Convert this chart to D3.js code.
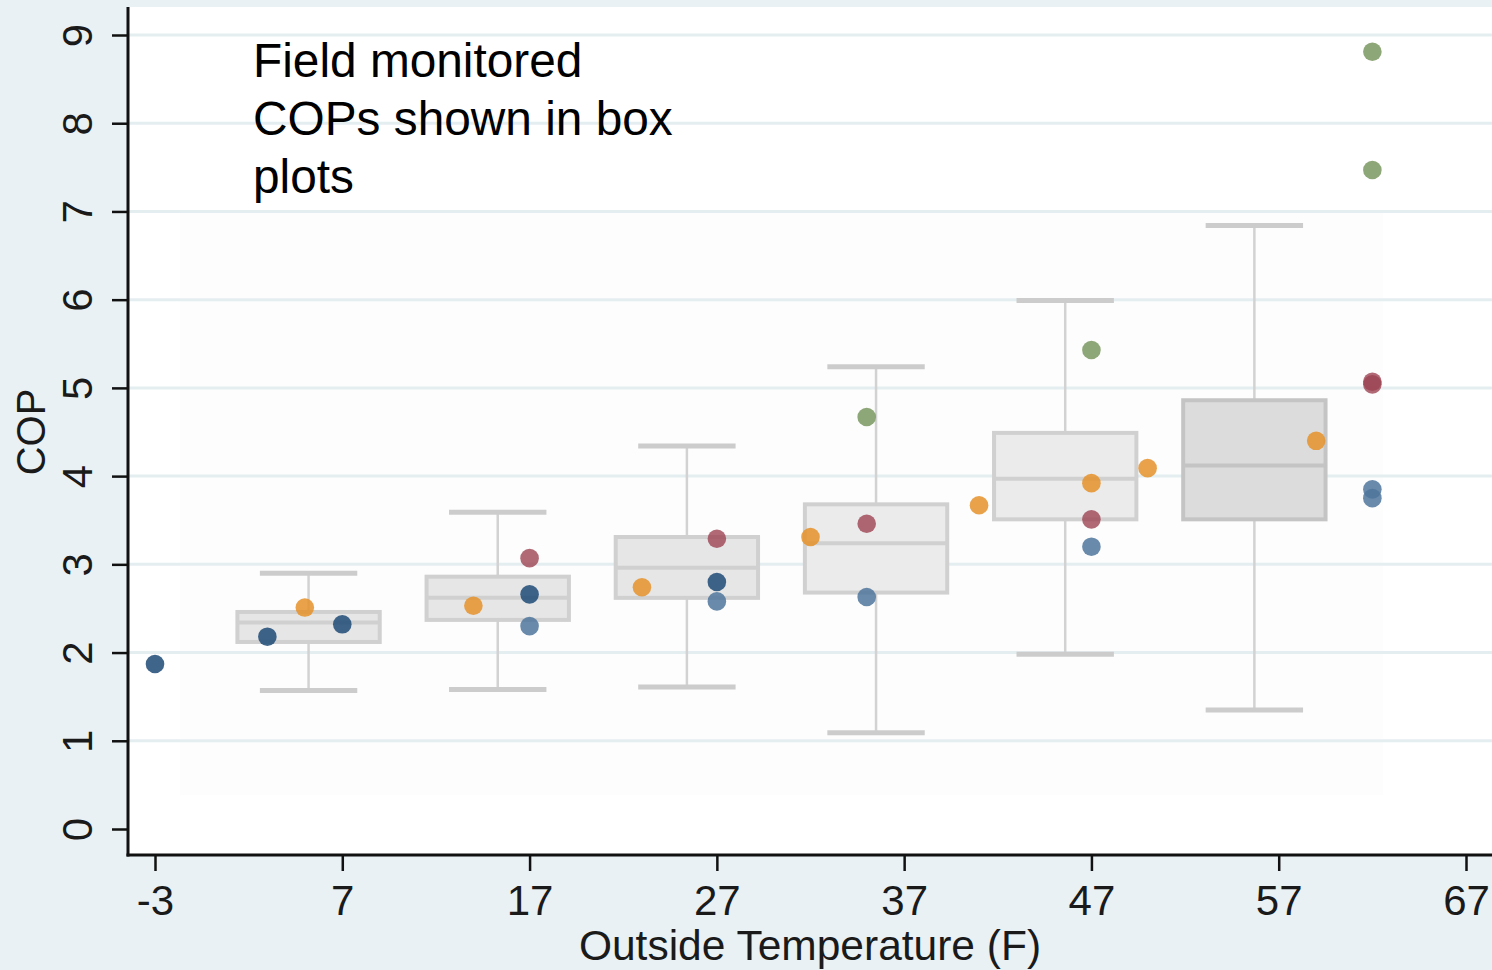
<!DOCTYPE html>
<html>
<head>
<meta charset="utf-8">
<script src="https://cdn.jsdelivr.net/npm/d3@7"></script>
<style>
  html, body { margin: 0; padding: 0; background: #eaf1f4; }
  svg { display: block; }
  text { font-family: "Liberation Sans", Arial, sans-serif; }
</style>
</head>
<body>
<svg id="chart" width="1492" height="970"></svg>
<script>
// Box plot summaries per temperature bin (COP)
const boxCenters   = [5.2, 15.3, 25.4, 35.5, 45.6, 55.7];
const whiskerLow   = [1.57, 1.58, 1.61, 1.09, 1.98, 1.35];
const quartile1    = [2.12, 2.37, 2.62, 2.68, 3.51, 3.51];
const medians      = [2.34, 2.62, 2.96, 3.24, 3.97, 4.12];
const quartile3    = [2.46, 2.86, 3.31, 3.68, 4.49, 4.86];
const whiskerHigh  = [2.90, 3.59, 4.34, 5.24, 5.99, 6.84];
const boxShade     = ["#e6e6e6", "#e6e6e6", "#e6e6e6", "#ebebeb", "#ebebeb", "#dcdcdc"];

// Individual field-monitored COP points, [temperature F, COP]
const navyPoints   = [[-3, 1.87], [3, 2.18], [7, 2.32], [17, 2.66], [27, 2.80]];
const steelPoints  = [[17, 2.30], [27, 2.58], [35, 2.63], [47, 3.20], [62, 3.85], [62, 3.75]];
const orangePoints = [[5, 2.51], [14, 2.53], [23, 2.74], [32, 3.31], [41, 3.67], [47, 3.92], [50, 4.09], [59, 4.40]];
const redPoints    = [[17, 3.07], [27, 3.29], [35, 3.46], [47, 3.51], [62, 5.07], [62, 5.04]];
const greenPoints  = [[35, 4.67], [47, 5.43], [62, 7.47], [62, 8.81]];

const xTicks = [-3, 7, 17, 27, 37, 47, 57, 67];
const yTicks = [0, 1, 2, 3, 4, 5, 6, 7, 8, 9];
const noteLines = ["Field monitored", "COPs shown in box", "plots"];

const svg = d3.select("#chart");
const W = 1492, H = 970;
const plot = { left: 128, right: 1492, top: 7, bottom: 855 };

const x = d3.scaleLinear().domain([-3, 67]).range([155, 1466]);
const y = d3.scaleLinear().domain([0, 9]).range([829, 35]);

// outer background
svg.append("rect").attr("width", W).attr("height", H).attr("fill", "#eaf1f4");
// plot region
svg.append("rect")
  .attr("x", plot.left).attr("y", plot.top)
  .attr("width", plot.right - plot.left).attr("height", plot.bottom - plot.top)
  .attr("fill", "#ffffff");
// faint inner region
svg.append("rect")
  .attr("x", 180).attr("y", 210).attr("width", 1203).attr("height", 585)
  .attr("fill", "#fdfdfd");

// horizontal gridlines
svg.append("g").selectAll("line").data(yTicks.filter(d => d > 0)).join("line")
  .attr("x1", plot.left).attr("x2", plot.right)
  .attr("y1", d => y(d)).attr("y2", d => y(d))
  .attr("stroke", "#e4edf0").attr("stroke-width", 3);

// boxes
const boxes = svg.append("g");
const boxHalf = 3.8, capHalf = 2.6;
boxCenters.forEach((c, i) => {
  const g = boxes.append("g");
  g.append("line")
    .attr("x1", x(c)).attr("x2", x(c))
    .attr("y1", y(whiskerHigh[i])).attr("y2", y(quartile3[i]))
    .attr("stroke", "#d2d2d2").attr("stroke-width", 2.5);
  g.append("line")
    .attr("x1", x(c)).attr("x2", x(c))
    .attr("y1", y(quartile1[i])).attr("y2", y(whiskerLow[i]))
    .attr("stroke", "#d2d2d2").attr("stroke-width", 2.5);
  [whiskerHigh[i], whiskerLow[i]].forEach(v => {
    g.append("line")
      .attr("x1", x(c - capHalf)).attr("x2", x(c + capHalf))
      .attr("y1", y(v)).attr("y2", y(v))
      .attr("stroke", "#cccccc").attr("stroke-width", 5);
  });
  g.append("rect")
    .attr("x", x(c - boxHalf)).attr("y", y(quartile3[i]))
    .attr("width", x(c + boxHalf) - x(c - boxHalf))
    .attr("height", y(quartile1[i]) - y(quartile3[i]))
    .attr("fill", boxShade[i])
    .attr("stroke", i === 5 ? "#c4c4c4" : "#d0d0d0").attr("stroke-width", 4);
  g.append("line")
    .attr("x1", x(c - boxHalf)).attr("x2", x(c + boxHalf))
    .attr("y1", y(medians[i])).attr("y2", y(medians[i]))
    .attr("stroke", i === 5 ? "#c4c4c4" : "#d0d0d0").attr("stroke-width", 4);
});

// points
const series = [
  { pts: navyPoints,   color: "#1f4a75", op: 0.85 },
  { pts: steelPoints,  color: "#4f769b", op: 0.85 },
  { pts: orangePoints, color: "#e5922a", op: 0.85 },
  { pts: redPoints,    color: "#9c4452", op: 0.8 },
  { pts: greenPoints,  color: "#7a9860", op: 0.85 }
];
const dots = svg.append("g");
series.forEach(s => {
  dots.selectAll(null).data(s.pts).join("circle")
    .attr("cx", d => x(d[0])).attr("cy", d => y(d[1])).attr("r", 9.3)
    .attr("fill", s.color).attr("fill-opacity", s.op);
});

// axes
const xAxis = d3.axisBottom(x).tickValues(xTicks).tickSize(16).tickPadding(14)
  .tickFormat(d => String(d));
const gx = svg.append("g").attr("transform", `translate(0,${plot.bottom})`).call(xAxis);
gx.select(".domain").remove();
gx.selectAll(".tick line").attr("stroke", "#111").attr("stroke-width", 2.5);
gx.selectAll(".tick text").attr("font-size", 42).attr("fill", "#1a1a1a")
  .attr("font-family", "'Liberation Sans', Arial, sans-serif");

const yAxis = d3.axisLeft(y).tickValues(yTicks).tickSize(16).tickPadding(0)
  .tickFormat(d => String(d));
const gy = svg.append("g").attr("transform", `translate(${plot.left},0)`).call(yAxis);
gy.select(".domain").remove();
gy.selectAll(".tick line").attr("stroke", "#111").attr("stroke-width", 2.5);
gy.selectAll(".tick text")
  .attr("font-size", 42).attr("fill", "#1a1a1a")
  .attr("font-family", "'Liberation Sans', Arial, sans-serif")
  .attr("x", null).attr("dy", null)
  .attr("text-anchor", "middle")
  .attr("transform", "translate(-36,0) rotate(-90)");

// axis lines
svg.append("line").attr("x1", plot.left).attr("x2", plot.left)
  .attr("y1", plot.top).attr("y2", plot.bottom + 1.5)
  .attr("stroke", "#111").attr("stroke-width", 3);
svg.append("line").attr("x1", plot.left - 1.5).attr("x2", plot.right)
  .attr("y1", plot.bottom).attr("y2", plot.bottom)
  .attr("stroke", "#111").attr("stroke-width", 3);

// axis titles
svg.append("text")
  .attr("x", 810).attr("y", 960).attr("text-anchor", "middle")
  .attr("font-size", 42.5).attr("fill", "#1a1a1a")
  .text("Outside Temperature (F)");
svg.append("text")
  .attr("transform", "translate(45,432) rotate(-90)")
  .attr("text-anchor", "middle")
  .attr("font-size", 40).attr("fill", "#1a1a1a")
  .text("COP");

// annotation
const note = svg.append("text").attr("x", 253).attr("y", 77)
  .attr("font-size", 47.8).attr("fill", "#000");
noteLines.forEach((t, i) => {
  note.append("tspan").attr("x", 253).attr("y", 77 + i * 58).text(t);
});
</script>
</body>
</html>
